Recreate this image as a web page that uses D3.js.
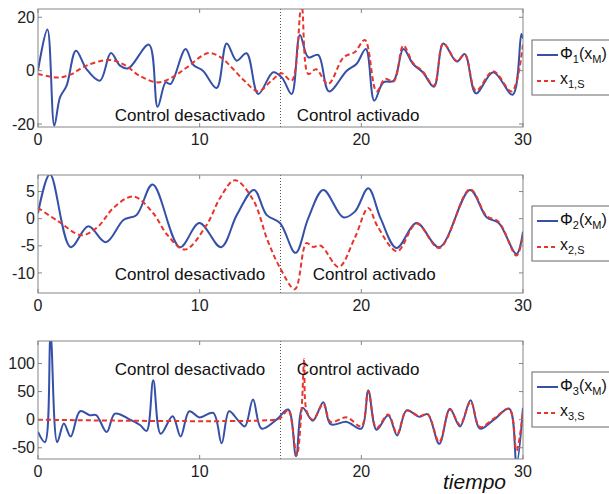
<!DOCTYPE html>
<html lang="es">
<head>
<meta charset="UTF-8">
<script src="https://d3js.org/d3.v7.min.js"></script>
<style>
  body { margin: 0; background: #fff; }
  svg { display: block; font-family: "Liberation Sans", Arial, sans-serif; }
  .tick-label { font-size: 16px; fill: #222; }
  .note { font-size: 17px; fill: #111; }
  .leg { font-size: 16px; fill: #111; }
</style>
</head>
<body>
<script>
// tiempo ticks
var xTicks = [0, 10, 20, 30];

// panel 1
var phi1 = [[0,0],[0.58,15.4],[1.01,-20.6],[1.36,-10],[1.77,-5.6],[2.35,7.5],[3.0,0.6],[3.83,-3.75],[4.51,6.6],[5.07,1.9],[5.59,0.9],[6.86,9.75],[7.4,-13.5],[7.9,-4.4],[8.2,-5],[9.13,8.1],[9.6,2.2],[10.2,0],[11.05,-6.5],[11.67,10.2],[12.29,3.75],[12.9,6.5],[13.62,-8.75],[14.55,-0.6],[15.1,-2.7],[15.69,-8.75],[16.2,13.4],[16.72,5],[17.33,5.9],[18.0,-7.75],[19.1,0],[19.7,2.5],[20.28,8.1],[20.8,-11.25],[21.36,-4.4],[22.0,-3.75],[22.6,8.1],[23.2,2.5],[23.8,-0.6],[24.49,-6],[25.07,10.2],[25.9,3.4],[26.4,6.2],[27.09,-8.5],[28.16,-0.6],[29.36,-9],[29.9,13.75],[30,12]];
var x1s = [[0,-1.2],[1.2,-2.6],[2.0,-1.5],[3.0,1.9],[4.45,4.0],[5.4,2.0],[6.28,-1.9],[7.44,-4.4],[8.3,-2.5],[9.2,1.2],[10.53,6.6],[11.3,5],[11.98,1.2],[12.8,-4],[13.62,-7.75],[14.4,-4],[15.07,-1],[15.69,-3.75],[16.3,24.5],[16.72,-1.25],[17.2,0.5],[17.95,-5],[18.9,5.0],[19.6,7],[20.22,11.5],[20.94,-7.75],[21.47,-3.1],[22.0,-4],[22.6,9.4],[23.2,2.8],[23.8,-0.3],[24.49,-5.6],[25.07,10.2],[25.9,3.6],[26.4,6.0],[27.09,-7.5],[28.16,-0.2],[29.3,-7.75],[30,10]];
var yTicks1 = [-20, 0, 20];

// panel 2
var phi2 = [[0,1.0],[0.74,8.2],[2.02,-5.25],[3.11,-1.4],[4.2,-4.35],[5.3,-0.2],[6.1,0.7],[7.09,6.3],[8.78,-5.25],[9.98,-0.8],[11.32,-5.25],[12.3,0.7],[13.36,5.3],[14.14,0.7],[14.97,-0.8],[15.93,-6.3],[16.72,0.1],[17.65,5.3],[18.88,0.25],[19.6,1.3],[20.43,5.6],[21.2,0],[22.18,-5.4],[23.42,-0.8],[24.82,-5.25],[26.72,5.3],[27.75,0.25],[28.5,-0.8],[29.6,-6.5],[30,-2.4]];
var x2s = [[0,2.0],[1.26,-0.5],[2.7,-3.05],[3.7,-1.5],[4.67,2.0],[5.9,4.1],[7.13,1.0],[8.0,-3],[9.09,-5.7],[10.4,-1.3],[11.3,4],[12.18,7.1],[13.3,3.5],[14.2,-4],[14.97,-9.05],[15.89,-13.0],[16.6,-4.5],[17.0,-5.2],[17.5,-5.0],[18.6,-8.9],[19.6,-3.5],[20.43,1.95],[21.0,-1.4],[22.22,-6],[23.42,-0.9],[24.82,-5.4],[26.72,5.4],[27.75,0.5],[28.5,-0.6],[29.6,-6.8],[30,-3]];
var yTicks2 = [-10, -5, 0, 5];

// panel 3
var phi3 = [[0,-22],[0.43,-40],[0.78,150],[1.19,-40],[1.6,-7],[2.02,-30],[2.6,15],[3.2,8],[3.6,8],[4.25,-22],[4.76,10.7],[5.7,0],[6.33,-10],[6.72,-20],[7.13,70],[7.59,-25],[8.33,6],[8.82,-30],[9.36,15],[10.0,4],[10.84,12],[11.36,-42],[11.82,15],[12.4,-2],[12.8,-12],[13.3,35.7],[13.83,-16],[14.75,0],[15.48,18],[15.96,-65],[16.37,21],[17.0,-2],[17.65,31],[18.1,-8],[19.1,-4],[20.0,-16],[20.43,52],[20.94,-18],[21.66,7.7],[22.22,-28],[22.8,16.6],[23.6,5],[24.1,10],[24.82,-43],[25.48,19.6],[26.1,-12],[26.76,34.5],[27.33,-16],[28.2,0],[29.15,19.6],[29.6,-78],[30,21]];
var x3s = [[0,0],[14.7,0],[15.0,3],[15.48,17],[16.0,-63],[16.3,17],[16.47,108],[16.62,15],[17.0,0],[17.65,28],[18.1,-4],[19.1,4],[20.0,-12],[20.43,50],[20.94,-15],[21.66,9],[22.22,-25],[22.8,16],[23.6,6],[24.1,10],[24.82,-40],[25.48,18],[26.1,-9],[26.76,32],[27.33,-13],[28.2,2],[29.15,19],[29.6,-55],[30,15]];
var yTicks3 = [-50, 0, 50, 100];

var panels = [
  {top: 9,   dom: [-21.1, 23.1], ticks: yTicks1, phi: phi1, xs: x1s, n: 1, offY: -16.6, onT: 16.0},
  {top: 175, dom: [-13.7, 8.05], ticks: yTicks2, phi: phi2, xs: x2s, n: 2, offY: -10.2, onT: 17.0},
  {top: 341, dom: [-70, 140],    ticks: yTicks3, phi: phi3, xs: x3s, n: 3, offY: 90,    onT: 16.0}
];

var W = 609, H = 494, left = 38, right = 523, ph = 118;
var blue = "#3550a8", red = "#e8352c", axisCol = "#858585";

var svg = d3.select("body").append("svg").attr("width", W).attr("height", H);

var x = d3.scaleLinear().domain([0, 30]).range([left, right]);

panels.forEach(function(p, i) {
  var y = d3.scaleLinear().domain(p.dom).range([p.top + ph, p.top]);
  var g = svg.append("g");

  g.append("clipPath").attr("id", "clip" + i)
    .append("rect").attr("x", left).attr("y", p.top).attr("width", right - left).attr("height", ph);

  // dotted line at t=15
  g.append("line")
    .attr("x1", x(15)).attr("x2", x(15)).attr("y1", p.top).attr("y2", p.top + ph)
    .attr("stroke", "#555").attr("stroke-width", 1).attr("stroke-dasharray", "1,2");

  var line = d3.line().x(d => x(d[0])).y(d => y(d[1])).curve(d3.curveCatmullRom.alpha(0.5));

  var plot = g.append("g").attr("clip-path", "url(#clip" + i + ")");
  plot.append("path").attr("d", line(p.phi))
    .attr("fill", "none").attr("stroke", blue).attr("stroke-width", 2);
  plot.append("path").attr("d", line(p.xs))
    .attr("fill", "none").attr("stroke", red).attr("stroke-width", 2).attr("stroke-dasharray", "5,3");

  // box
  g.append("rect").attr("x", left).attr("y", p.top).attr("width", right - left).attr("height", ph)
    .attr("fill", "none").attr("stroke", axisCol).attr("stroke-width", 1);

  // ticks inward on all sides
  p.ticks.forEach(function(t) {
    g.append("line").attr("x1", left).attr("x2", left + 4).attr("y1", y(t)).attr("y2", y(t)).attr("stroke", axisCol);
    g.append("line").attr("x1", right).attr("x2", right - 4).attr("y1", y(t)).attr("y2", y(t)).attr("stroke", axisCol);
    g.append("text").attr("class", "tick-label")
      .attr("x", left - 3).attr("y", y(t)).attr("dy", "0.35em").attr("text-anchor", "end").text(t);
  });
  xTicks.forEach(function(t) {
    g.append("line").attr("x1", x(t)).attr("x2", x(t)).attr("y1", p.top + ph).attr("y2", p.top + ph - 4).attr("stroke", axisCol);
    g.append("line").attr("x1", x(t)).attr("x2", x(t)).attr("y1", p.top).attr("y2", p.top + 4).attr("stroke", axisCol);
    g.append("text").attr("class", "tick-label")
      .attr("x", x(t)).attr("y", p.top + ph + 18).attr("text-anchor", "middle").text(t);
  });

  g.append("text").attr("class", "note").attr("x", x(9.4)).attr("y", y(p.offY)).attr("dy", "0.35em")
    .attr("text-anchor", "middle").text("Control desactivado");
  g.append("text").attr("class", "note").attr("x", x(p.onT)).attr("y", y(p.offY)).attr("dy", "0.35em")
    .text("Control activado");

  // legend
  var ly = p.top + 31;
  g.append("rect").attr("x", 532).attr("y", ly).attr("width", 82).attr("height", 55)
    .attr("fill", "#fff").attr("stroke", "#666").attr("stroke-width", 1);
  g.append("line").attr("x1", 537).attr("x2", 558).attr("y1", ly + 15).attr("y2", ly + 15)
    .attr("stroke", blue).attr("stroke-width", 2);
  g.append("line").attr("x1", 537).attr("x2", 558).attr("y1", ly + 41).attr("y2", ly + 41)
    .attr("stroke", red).attr("stroke-width", 2).attr("stroke-dasharray", "4,3");
  var t1 = g.append("text").attr("class", "leg").attr("x", 560).attr("y", ly + 19);
  t1.append("tspan").text("\u03A6");
  t1.append("tspan").attr("dy", 4).attr("font-size", 11).text(p.n);
  t1.append("tspan").attr("dy", -4).text("(x");
  t1.append("tspan").attr("dy", 4).attr("font-size", 11).text("M");
  t1.append("tspan").attr("dy", -4).text(")");
  var t2 = g.append("text").attr("class", "leg").attr("x", 560).attr("y", ly + 44);
  t2.append("tspan").text("x");
  t2.append("tspan").attr("dy", 4).attr("font-size", 11).text(p.n + ",S");
});

svg.append("text").attr("x", 443).attr("y", 489)
  .attr("font-size", 21).attr("font-style", "italic").attr("fill", "#111").text("tiempo");
</script>
</body>
</html>
